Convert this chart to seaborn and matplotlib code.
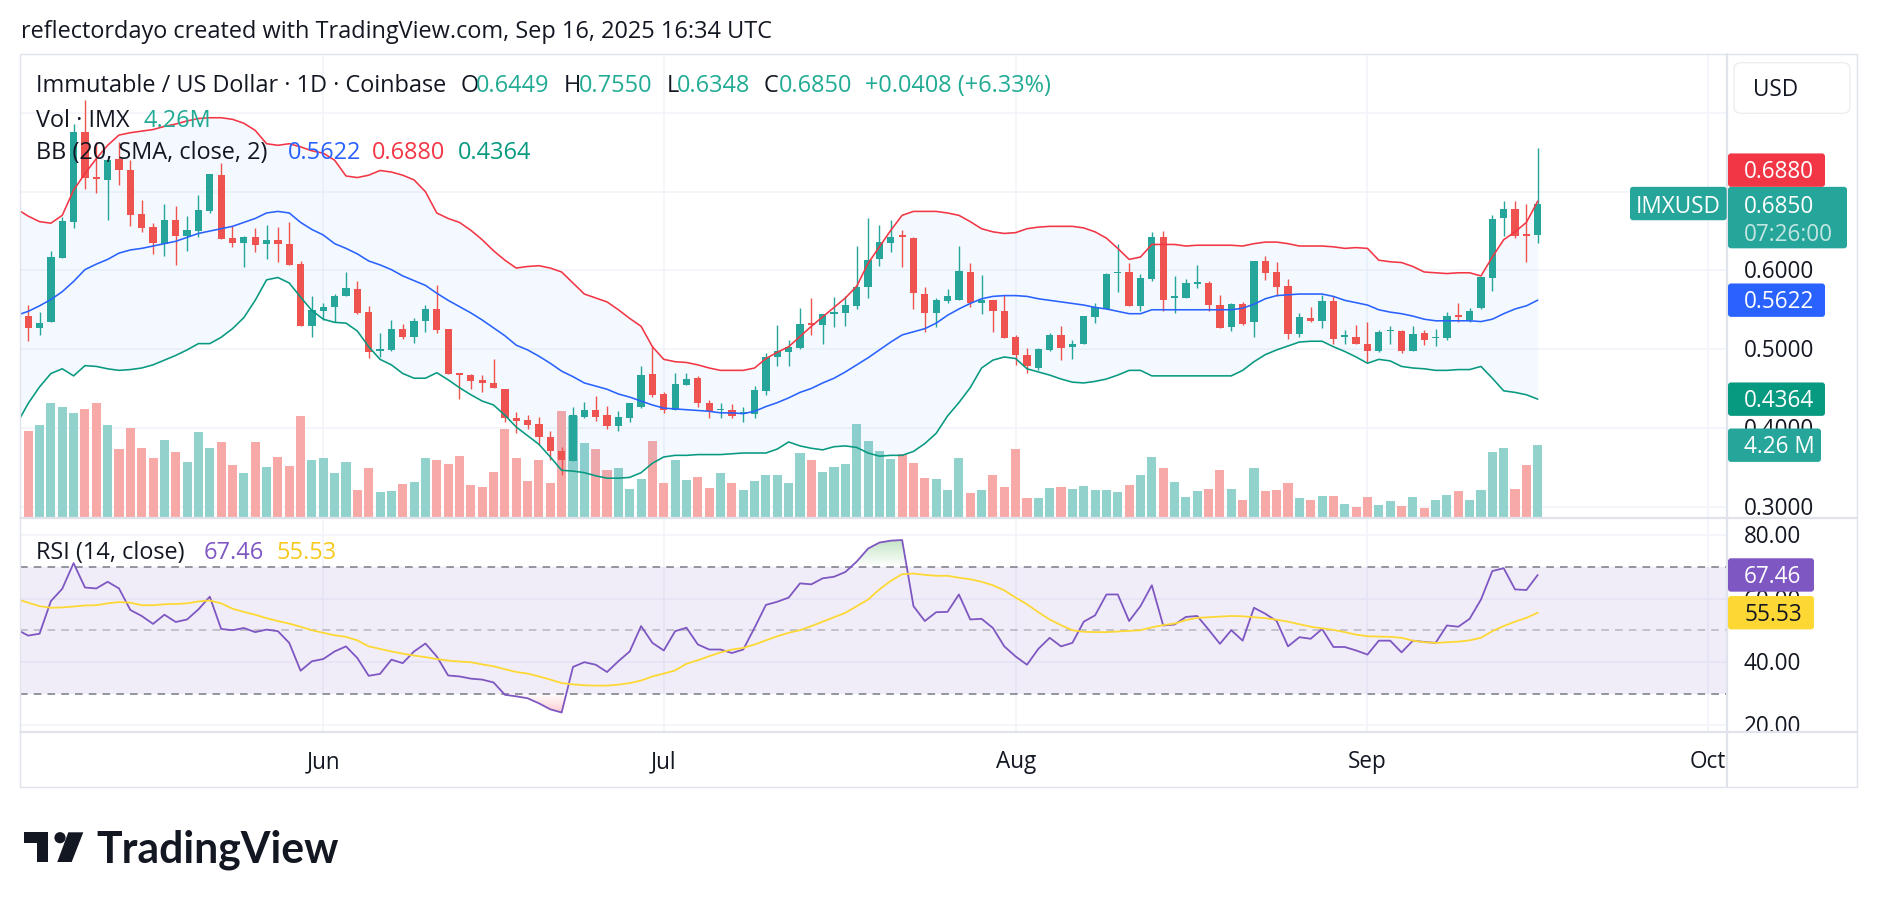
import numpy as np
import pandas as pd
import matplotlib
matplotlib.use("Agg")
import matplotlib.pyplot as plt
import matplotlib.transforms as mtrans
from matplotlib.patches import FancyBboxPatch, Polygon, Circle
from matplotlib.lines import Line2D
from matplotlib.path import Path
from matplotlib.colors import to_rgb
import seaborn as sns

# ---------------------------------------------------------------- data
start_date = "2025-05-05"          # first (mostly hidden) daily candle
open_ = [0.547,
 0.542, 0.527, 0.534, 0.616, 0.662, 0.776, 0.719, 0.715, 0.742, 0.728,
 0.672, 0.655, 0.634, 0.664, 0.644, 0.650, 0.675, 0.721, 0.641, 0.635,
 0.642, 0.633, 0.639, 0.634, 0.608, 0.530, 0.548, 0.553, 0.567, 0.577,
 0.547, 0.497, 0.499, 0.526, 0.516, 0.536, 0.551, 0.526, 0.470, 0.467,
 0.461, 0.457, 0.449, 0.413, 0.410, 0.405, 0.388, 0.370, 0.358, 0.414,
 0.423, 0.416, 0.402, 0.413, 0.427, 0.468, 0.443, 0.423, 0.455, 0.463,
 0.431, 0.422, 0.423, 0.417, 0.418, 0.447, 0.490, 0.496, 0.502, 0.533,
 0.531, 0.545, 0.546, 0.555, 0.579, 0.614, 0.635, 0.645, 0.641, 0.570,
 0.546, 0.561, 0.562, 0.598, 0.558, 0.562, 0.548, 0.515, 0.493, 0.476,
 0.499, 0.518, 0.503, 0.507, 0.541, 0.551, 0.597, 0.598, 0.555, 0.589,
 0.642, 0.565, 0.565, 0.583, 0.584, 0.556, 0.528, 0.557, 0.534, 0.612,
 0.598, 0.580, 0.519, 0.540, 0.536, 0.561, 0.516, 0.515, 0.507, 0.497,
 0.523, 0.523, 0.497, 0.521, 0.514, 0.514, 0.543, 0.537, 0.552, 0.591,
 0.666, 0.678, 0.646, 0.6449]
high = [0.552,
 0.556, 0.547, 0.625, 0.668, 0.786, 0.816, 0.763, 0.742, 0.763, 0.740,
 0.690, 0.660, 0.684, 0.682, 0.669, 0.696, 0.723, 0.736, 0.656, 0.644,
 0.654, 0.658, 0.655, 0.661, 0.612, 0.568, 0.558, 0.570, 0.598, 0.587,
 0.555, 0.521, 0.537, 0.532, 0.539, 0.556, 0.582, 0.526, 0.470, 0.469,
 0.467, 0.487, 0.449, 0.420, 0.416, 0.414, 0.396, 0.376, 0.427, 0.433,
 0.440, 0.428, 0.421, 0.432, 0.479, 0.503, 0.445, 0.470, 0.470, 0.466,
 0.435, 0.431, 0.430, 0.426, 0.453, 0.495, 0.531, 0.512, 0.552, 0.565,
 0.545, 0.566, 0.568, 0.631, 0.667, 0.658, 0.664, 0.651, 0.642, 0.579,
 0.565, 0.577, 0.631, 0.610, 0.594, 0.562, 0.569, 0.518, 0.501, 0.502,
 0.521, 0.529, 0.511, 0.542, 0.558, 0.597, 0.633, 0.610, 0.596, 0.649,
 0.650, 0.593, 0.589, 0.607, 0.587, 0.569, 0.558, 0.560, 0.612, 0.618,
 0.611, 0.589, 0.546, 0.553, 0.569, 0.567, 0.524, 0.531, 0.535, 0.524,
 0.529, 0.524, 0.530, 0.524, 0.525, 0.547, 0.559, 0.552, 0.592, 0.670,
 0.688, 0.688, 0.684, 0.7550]
low = [0.536,
 0.510, 0.518, 0.534, 0.616, 0.654, 0.703, 0.698, 0.664, 0.709, 0.656,
 0.649, 0.621, 0.618, 0.607, 0.625, 0.643, 0.673, 0.640, 0.630, 0.604,
 0.623, 0.615, 0.611, 0.607, 0.529, 0.516, 0.537, 0.534, 0.567, 0.545,
 0.489, 0.490, 0.498, 0.513, 0.508, 0.522, 0.521, 0.469, 0.437, 0.449,
 0.445, 0.450, 0.408, 0.394, 0.399, 0.378, 0.359, 0.340, 0.358, 0.413,
 0.409, 0.399, 0.396, 0.408, 0.425, 0.439, 0.419, 0.423, 0.455, 0.426,
 0.413, 0.412, 0.412, 0.407, 0.413, 0.442, 0.479, 0.479, 0.500, 0.518,
 0.506, 0.528, 0.530, 0.551, 0.565, 0.605, 0.624, 0.604, 0.551, 0.522,
 0.528, 0.558, 0.562, 0.553, 0.544, 0.522, 0.514, 0.480, 0.470, 0.474,
 0.498, 0.486, 0.487, 0.507, 0.533, 0.551, 0.573, 0.555, 0.548, 0.586,
 0.549, 0.546, 0.565, 0.578, 0.548, 0.527, 0.523, 0.531, 0.515, 0.588,
 0.567, 0.513, 0.515, 0.534, 0.527, 0.507, 0.506, 0.507, 0.484, 0.496,
 0.507, 0.495, 0.497, 0.505, 0.504, 0.512, 0.535, 0.535, 0.551, 0.574,
 0.644, 0.641, 0.611, 0.6348]
close = [0.541,
 0.527, 0.533, 0.617, 0.663, 0.776, 0.718, 0.716, 0.740, 0.727, 0.670,
 0.654, 0.635, 0.664, 0.644, 0.651, 0.677, 0.722, 0.640, 0.635, 0.643,
 0.632, 0.639, 0.634, 0.607, 0.530, 0.550, 0.554, 0.568, 0.578, 0.546,
 0.496, 0.500, 0.526, 0.515, 0.536, 0.551, 0.524, 0.469, 0.467, 0.459,
 0.457, 0.450, 0.413, 0.409, 0.403, 0.388, 0.370, 0.359, 0.416, 0.423,
 0.414, 0.402, 0.414, 0.431, 0.467, 0.442, 0.423, 0.456, 0.462, 0.431,
 0.421, 0.424, 0.415, 0.420, 0.448, 0.490, 0.497, 0.503, 0.532, 0.531,
 0.545, 0.547, 0.556, 0.579, 0.613, 0.636, 0.642, 0.642, 0.571, 0.546,
 0.563, 0.567, 0.599, 0.559, 0.562, 0.548, 0.514, 0.493, 0.478, 0.500,
 0.518, 0.502, 0.507, 0.542, 0.553, 0.596, 0.598, 0.555, 0.591, 0.642,
 0.562, 0.567, 0.584, 0.585, 0.556, 0.527, 0.557, 0.532, 0.612, 0.597,
 0.579, 0.519, 0.541, 0.536, 0.561, 0.513, 0.517, 0.507, 0.497, 0.522,
 0.524, 0.497, 0.519, 0.512, 0.516, 0.542, 0.541, 0.549, 0.592, 0.665,
 0.678, 0.644, 0.6442, 0.6850]
volume_m = [2.99,
 5.10, 5.45, 6.72, 6.50, 6.15, 6.38, 6.72, 5.45, 4.04, 5.27,
 4.10, 3.52, 4.57, 3.87, 3.28, 5.04, 4.10, 4.45, 3.11, 2.64,
 4.45, 2.99, 3.57, 3.05, 5.97, 3.40, 3.52, 2.64, 3.28, 1.64,
 2.93, 1.52, 1.58, 1.99, 2.11, 3.52, 3.40, 3.17, 3.63, 1.93,
 1.81, 2.69, 5.21, 3.52, 2.17, 3.40, 2.05, 6.27, 5.97, 4.39,
 4.04, 2.81, 2.93, 1.70, 2.29, 4.51, 2.05, 3.40, 2.23, 2.40,
 1.76, 2.64, 2.05, 1.64, 2.17, 2.52, 2.52, 2.05, 3.81, 3.40,
 2.69, 2.99, 3.17, 5.51, 4.51, 3.92, 3.46, 3.75, 3.23, 2.34,
 2.29, 1.64, 3.52, 1.46, 1.64, 2.52, 1.81, 4.04, 1.17, 1.17,
 1.76, 1.81, 1.70, 1.87, 1.64, 1.64, 1.52, 1.93, 2.52, 3.57,
 2.93, 2.11, 1.23, 1.58, 1.70, 2.81, 1.70, 1.05, 2.93, 1.58,
 1.64, 2.05, 1.17, 1.05, 1.29, 1.29, 0.82, 0.64, 1.23, 0.76,
 1.00, 0.70, 1.23, 0.59, 1.05, 1.35, 1.58, 1.05, 1.64, 3.87,
 4.10, 1.70, 3.11, 4.26]
bb_upper = [0.678,
 0.669, 0.662, 0.660, 0.670, 0.702, 0.723, 0.742, 0.759, 0.772, 0.775,
 0.777, 0.779, 0.783, 0.786, 0.790, 0.793, 0.794, 0.794, 0.792, 0.787,
 0.778, 0.761, 0.759, 0.761, 0.757, 0.752, 0.749, 0.740, 0.720, 0.718,
 0.721, 0.727, 0.725, 0.721, 0.715, 0.700, 0.673, 0.666, 0.661, 0.651,
 0.639, 0.625, 0.613, 0.603, 0.605, 0.606, 0.603, 0.598, 0.584, 0.570,
 0.565, 0.560, 0.550, 0.539, 0.529, 0.503, 0.487, 0.484, 0.483, 0.480,
 0.476, 0.473, 0.473, 0.473, 0.476, 0.488, 0.496, 0.503, 0.516, 0.529,
 0.541, 0.553, 0.565, 0.580, 0.609, 0.630, 0.651, 0.670, 0.675, 0.675,
 0.675, 0.673, 0.670, 0.662, 0.653, 0.649, 0.647, 0.648, 0.653, 0.655,
 0.656, 0.656, 0.656, 0.654, 0.649, 0.641, 0.628, 0.614, 0.617, 0.633,
 0.633, 0.633, 0.631, 0.632, 0.632, 0.632, 0.632, 0.631, 0.634, 0.636,
 0.636, 0.634, 0.631, 0.631, 0.631, 0.630, 0.628, 0.629, 0.628, 0.613,
 0.611, 0.610, 0.605, 0.598, 0.597, 0.596, 0.597, 0.597, 0.593, 0.617,
 0.639, 0.649, 0.661, 0.6880]
bb_basis = [0.543,
 0.548, 0.555, 0.563, 0.573, 0.586, 0.601, 0.608, 0.614, 0.622, 0.626,
 0.628, 0.631, 0.634, 0.637, 0.642, 0.647, 0.650, 0.653, 0.656, 0.661,
 0.666, 0.673, 0.675, 0.673, 0.661, 0.652, 0.645, 0.634, 0.628, 0.621,
 0.612, 0.607, 0.601, 0.593, 0.587, 0.581, 0.571, 0.562, 0.554, 0.546,
 0.537, 0.527, 0.517, 0.505, 0.499, 0.491, 0.482, 0.472, 0.465, 0.457,
 0.453, 0.449, 0.443, 0.439, 0.434, 0.429, 0.425, 0.424, 0.423, 0.422,
 0.421, 0.419, 0.419, 0.418, 0.421, 0.427, 0.432, 0.438, 0.445, 0.450,
 0.457, 0.463, 0.471, 0.480, 0.489, 0.499, 0.509, 0.518, 0.522, 0.526,
 0.533, 0.543, 0.551, 0.558, 0.564, 0.567, 0.568, 0.568, 0.567, 0.564,
 0.562, 0.560, 0.558, 0.556, 0.553, 0.551, 0.548, 0.545, 0.545, 0.550,
 0.550, 0.550, 0.550, 0.550, 0.550, 0.550, 0.550, 0.552, 0.557, 0.564,
 0.568, 0.569, 0.570, 0.570, 0.570, 0.567, 0.562, 0.559, 0.556, 0.550,
 0.547, 0.545, 0.542, 0.538, 0.536, 0.536, 0.536, 0.536, 0.535, 0.538,
 0.545, 0.551, 0.555, 0.5622]
bb_lower = [0.405,
 0.431, 0.452, 0.469, 0.475, 0.466, 0.479, 0.478, 0.475, 0.473, 0.474,
 0.476, 0.480, 0.486, 0.492, 0.499, 0.507, 0.507, 0.515, 0.526, 0.540,
 0.562, 0.588, 0.591, 0.584, 0.566, 0.549, 0.538, 0.534, 0.533, 0.523,
 0.503, 0.487, 0.480, 0.469, 0.463, 0.463, 0.470, 0.461, 0.451, 0.442,
 0.434, 0.429, 0.416, 0.401, 0.390, 0.379, 0.363, 0.346, 0.345, 0.343,
 0.339, 0.336, 0.336, 0.337, 0.343, 0.355, 0.363, 0.365, 0.365, 0.366,
 0.366, 0.366, 0.367, 0.368, 0.368, 0.368, 0.373, 0.382, 0.377, 0.374,
 0.372, 0.376, 0.377, 0.375, 0.368, 0.364, 0.365, 0.365, 0.370, 0.380,
 0.393, 0.415, 0.432, 0.451, 0.476, 0.486, 0.490, 0.488, 0.475, 0.471,
 0.467, 0.462, 0.458, 0.457, 0.459, 0.462, 0.467, 0.473, 0.473, 0.466,
 0.466, 0.466, 0.466, 0.466, 0.466, 0.466, 0.466, 0.473, 0.484, 0.493,
 0.499, 0.504, 0.509, 0.510, 0.510, 0.503, 0.497, 0.490, 0.482, 0.487,
 0.485, 0.478, 0.476, 0.475, 0.473, 0.473, 0.474, 0.474, 0.478, 0.463,
 0.447, 0.445, 0.442, 0.4364]
rsi = [50.2,
 48.3, 48.9, 59.2, 63.1, 71.2, 63.5, 63.2, 65.3, 63.2, 56.4,
 54.5, 52.0, 54.9, 52.6, 53.4, 56.6, 60.6, 50.4, 50.0, 50.7,
 49.4, 50.2, 49.7, 46.0, 37.2, 40.2, 40.9, 43.3, 44.9, 41.2,
 35.6, 36.2, 40.7, 39.6, 43.3, 45.8, 41.7, 35.7, 35.4, 34.7,
 34.4, 33.5, 29.6, 29.1, 28.5, 26.9, 25.0, 24.0, 38.4, 39.9,
 39.1, 36.8, 40.2, 43.3, 51.3, 46.0, 43.6, 49.7, 50.8, 45.5,
 43.9, 43.9, 42.8, 43.9, 50.8, 58.0, 59.0, 60.3, 64.8, 64.5,
 66.4, 66.9, 68.4, 71.7, 75.8, 77.7, 78.3, 78.5, 57.6, 52.9,
 55.7, 55.8, 61.3, 53.4, 53.6, 50.7, 44.9, 41.7, 39.1, 44.1,
 47.6, 44.9, 46.0, 52.7, 54.7, 61.3, 61.3, 52.9, 57.6, 64.2,
 51.5, 51.8, 54.2, 54.5, 50.2, 45.7, 50.0, 46.7, 57.1, 55.2,
 52.9, 44.9, 47.8, 47.3, 50.4, 44.7, 44.7, 43.6, 42.3, 46.7,
 46.7, 43.0, 46.7, 46.3, 46.0, 51.5, 51.1, 53.6, 59.7, 68.7,
 69.6, 62.9, 62.7, 67.46]
rsi_ma = [59.8,
 58.7, 57.6, 57.1, 57.2, 57.5, 57.8, 57.9, 58.5, 58.9, 58.7,
 57.9, 57.9, 58.2, 58.3, 58.5, 59.1, 59.4, 58.5, 56.8, 55.8,
 54.9, 53.8, 52.9, 52.1, 51.1, 50.0, 49.2, 48.4, 47.9, 46.8,
 44.9, 44.1, 43.3, 42.6, 42.0, 41.5, 40.9, 40.4, 40.1, 39.9,
 39.2, 38.6, 37.7, 36.8, 36.3, 35.4, 34.4, 33.3, 32.9, 32.6,
 32.5, 32.5, 32.8, 33.3, 34.1, 35.4, 36.3, 37.3, 39.4, 40.5,
 41.8, 43.0, 43.9, 44.4, 45.5, 46.8, 48.1, 49.2, 50.0, 51.3,
 52.7, 54.1, 55.5, 57.6, 59.7, 62.9, 65.6, 67.7, 67.9, 67.5,
 67.2, 67.2, 66.6, 66.1, 65.3, 64.2, 62.6, 60.3, 58.2, 55.7,
 53.4, 51.6, 50.0, 49.5, 49.4, 49.4, 49.6, 49.8, 50.0, 50.9,
 51.6, 52.1, 53.2, 53.9, 54.1, 54.3, 54.5, 54.4, 54.1, 53.8,
 53.3, 52.7, 51.9, 51.1, 50.6, 50.1, 49.4, 48.6, 48.1, 48.0,
 47.9, 47.6, 46.7, 46.2, 46.0, 46.2, 46.4, 46.8, 47.6, 49.7,
 51.3, 52.7, 53.9, 55.53]
month_ticks = ["2025-06-01", "2025-07-01", "2025-08-01", "2025-09-01", "2025-10-01"]
month_labels = ["Jun", "Jul", "Aug", "Sep", "Oct"]
price_grid = [0.3, 0.4, 0.5, 0.6, 0.7, 0.8]
price_labels = [0.3, 0.4, 0.5, 0.6]
rsi_grid = [20, 40, 60, 80]

# ---------------------------------------------------------------- style
sns.set_theme(style="white")
plt.rcParams['font.family'] = ['Open Sans', 'DejaVu Sans']

UP, DN = '#26a69a', '#ef5350'
VUP, VDN = '#92d2cc', '#f7a9a7'
TXT = '#131722'
GRID = '#f0f3fa'
FRAME = '#e0e3eb'
C_UP_BB, C_MID_BB, C_LO_BB = '#F23645', '#2962FF', '#089981'
C_RSI, C_MA = '#7E57C2', '#FDD835'

W, H, DPI = 1878, 908, 100
fig = plt.figure(figsize=(W / DPI, H / DPI), dpi=DPI, facecolor='white')


def rect_px(x0, y0, x1, y1):
    return [x0 / W, 1 - y1 / H, (x1 - x0) / W, (y1 - y0) / H]


PX0, PX1, SX1 = 20.4, 1726.7, 1857.0
PY0, PY1, RY1, TY1 = 54.0, 518.0, 732.0, 787.0

ax_g = fig.add_axes(rect_px(PX0, PY0, PX1, PY1))
ax_v = fig.add_axes(rect_px(PX0, PY0, PX1, PY1), sharex=ax_g)
ax_p = fig.add_axes(rect_px(PX0, PY0, PX1, PY1), sharex=ax_g, sharey=ax_g)
ax_r = fig.add_axes(rect_px(PX0, PY1, PX1, RY1), sharex=ax_g)
ax_ps = fig.add_axes(rect_px(PX1, PY0, SX1, PY1), sharey=ax_g)
ax_rs = fig.add_axes(rect_px(PX1, PY1, SX1, RY1), sharey=ax_r)
ov = fig.add_axes([0, 0, 1, 1])
for z, a in enumerate((ax_g, ax_v, ax_p, ax_r, ax_ps, ax_rs)):
    a.set_axis_off()
    a.set_zorder(z)
ov.set_axis_off()
ov.set_zorder(20)
ov.set_xlim(0, W)
ov.set_ylim(H, 0)

dates = pd.date_range(start_date, periods=len(close), freq='D')
x = np.asarray((dates - dates[0]).days, dtype=float)
mx = np.array([(pd.Timestamp(d) - dates[0]).days for d in month_ticks], dtype=float)

O, Hh, L, C = map(np.asarray, (open_, high, low, close))
V = np.asarray(volume_m)
UPB, MID, LOB = map(np.asarray, (bb_upper, bb_basis, bb_lower))
R, RMA = np.asarray(rsi), np.asarray(rsi_ma)

XL, XR = 0.313, 150.65
P_LO, P_HI = 0.2854, 0.8750
R_LO, R_HI = 17.84, 85.46

# ---------------------------------------------------------------- grid
ax_g.hlines(price_grid, XL, XR, colors=GRID, lw=1.1)
ax_g.vlines(mx, P_LO, P_HI, colors=GRID, lw=1.1)

# ---------------------------------------------------------------- volume
up = C >= O
ax_v.bar(x, V, width=0.8, color=np.where(up, VUP, VDN), linewidth=0)

# ---------------------------------------------------------------- BB + candles
ax_p.fill_between(x, LOB, UPB, color='#2196F3', alpha=0.05, lw=0, zorder=1)
ax_p.vlines(x, L, Hh, colors=np.where(up, UP, DN), lw=1.0, zorder=3)
body_lo = np.minimum(O, C)
body_h = np.maximum(np.abs(C - O), 0.0014)
ax_p.bar(x, body_h, bottom=body_lo, width=0.64, color=np.where(up, UP, DN),
         linewidth=0, zorder=4)
for vals, col in ((UPB, C_UP_BB), (MID, C_MID_BB), (LOB, C_LO_BB)):
    sns.lineplot(x=x, y=vals, ax=ax_p, color=col, linewidth=1.15, legend=False,
                 zorder=5)

# ---------------------------------------------------------------- RSI pane
ax_r.hlines(rsi_grid, XL, XR, colors=GRID, lw=1.1, zorder=0.3)
ax_r.vlines(mx, R_LO, R_HI, colors=GRID, lw=1.1, zorder=0.3)
ax_r.axhspan(30, 70, facecolor=C_RSI, alpha=0.1, lw=0, zorder=0.5)
ax_r.axhline(70, color='#787B86', lw=1.1, ls=(0, (5, 4)), zorder=1)
ax_r.axhline(30, color='#787B86', lw=1.1, ls=(0, (5, 4)), zorder=1)
ax_r.axhline(50, color='#787B86', lw=1.1, ls=(0, (5, 4)), alpha=0.5, zorder=1)


def grad_fill(ax, base, where, y_from, y_to, color, amax):
    coll = ax.fill_between(x, base, R, where=where, interpolate=True,
                           facecolor='none', edgecolor='none')
    paths = coll.get_paths()
    if not paths:
        return
    comp = Path.make_compound_path(*paths)
    arr = np.zeros((256, 1, 4))
    arr[..., :3] = to_rgb(color)
    lo, hi = min(y_from, y_to), max(y_from, y_to)
    a = np.linspace(0, amax, 256)
    arr[:, 0, 3] = a if y_to > y_from else a[::-1]
    im = ax.imshow(arr, extent=[XL, XR, lo, hi], origin='lower', aspect='auto',
                   zorder=1.5, interpolation='bilinear')
    im.set_clip_path(comp, ax.transData)


grad_fill(ax_r, 70, R > 70, 70, 79, '#4CAF50', 0.35)
grad_fill(ax_r, 30, R < 30, 30, 23, '#F23645', 0.3)
sns.lineplot(x=x, y=R, ax=ax_r, color=C_RSI, linewidth=1.3, legend=False, zorder=3)
sns.lineplot(x=x, y=RMA, ax=ax_r, color=C_MA, linewidth=1.3, legend=False, zorder=4)

# ---------------------------------------------------------------- limits
ax_g.set_xlim(XL, XR)
ax_g.set_ylim(P_LO, P_HI)
ax_v.set_ylim(0, 27.15)
ax_r.set_ylim(R_LO, R_HI)
ax_r.set_xlim(XL, XR)
ax_ps.set_xlim(0, 1)
ax_rs.set_xlim(0, 1)

# ---------------------------------------------------------------- text helpers
renderer = fig.canvas.get_renderer()
CAP = 0.714


def fit_size(s, target_w, base=12.0, **kw):
    t = fig.text(0, 0, s, fontsize=base, **kw)
    w = t.get_window_extent(renderer=renderer).width
    t.remove()
    return base * target_w / w


def cap_px(size):
    return CAP * size * DPI / 72.0


def put(xp, ybase, s, size, color=TXT, ha='left', **kw):
    kw.setdefault('zorder', 8)
    return ov.text(xp, ybase, s, fontsize=size, color=color, ha=ha,
                   va='baseline', **kw)


def py(ax, val):
    return H - ax.transData.transform((0, val))[1]


fs_axis = fit_size("0.6000", 71)
fs_leg = fit_size("Immutable / US Dollar \u00b7 1D \u00b7 Coinbase", 409)
fs_title = fit_size("reflectordayo created with TradingView.com, Sep 16, 2025 16:34 UTC", 749)

# title
put(21, 37.7, "reflectordayo created with TradingView.com, Sep 16, 2025 16:34 UTC", fs_title)

# legend lines
TEAL_T = '#22ab94'
b1 = 92.3
put(36.5, b1, "Immutable / US Dollar \u00b7 1D \u00b7 Coinbase", fs_leg)
for lx, letter, vx, val in ((461, "O", 475.8, open_[-1]), (563.5, "H", 579, high[-1]),
                            (666.7, "L", 677, low[-1]), (763.5, "C", 779, close[-1])):
    put(lx, b1, letter, fs_leg)
    put(vx, b1, f"{val:.4f}", fs_leg, color=TEAL_T)
chg = close[-1] - close[-2]
put(864.6, b1, f"+{chg:.4f} (+{chg / close[-2] * 100:.2f}%)", fs_leg, color=TEAL_T)
put(36.5, 126.7, "Vol \u00b7 IMX", fs_leg)
put(143.9, 126.7, f"{volume_m[-1]:.2f}M", fs_leg, color=TEAL_T)
put(36.5, 159.3, "BB (20, SMA, close, 2)", fs_leg)
put(287.7, 159.3, f"{bb_basis[-1]:.4f}", fs_leg, color=C_MID_BB)
put(372, 159.3, f"{bb_upper[-1]:.4f}", fs_leg, color=C_UP_BB)
put(457.5, 159.3, f"{bb_lower[-1]:.4f}", fs_leg, color=C_LO_BB)
put(36, 559.3, "RSI (14, close)", fs_leg)
put(203.8, 559.3, f"{rsi[-1]:.2f}", fs_leg, color=C_RSI)
put(277, 559.3, f"{rsi_ma[-1]:.2f}", fs_leg, color='#F7C81E')

# axis tick labels (scale panes)
off = mtrans.ScaledTranslation(0, -cap_px(fs_axis) / 2 / DPI, fig.dpi_scale_trans)
tx_frac = (1744 - PX1) / (SX1 - PX1)
tr_ps = mtrans.blended_transform_factory(ax_ps.transAxes, ax_ps.transData) + off
for v in price_labels:
    ax_ps.text(tx_frac, v, f"{v:.4f}", transform=tr_ps, fontsize=fs_axis,
               color=TXT, va='baseline', ha='left', clip_on=True)
tr_rs = mtrans.blended_transform_factory(ax_rs.transAxes, ax_rs.transData) + off
for v in rsi_grid:
    ax_rs.text(tx_frac, v, f"{v:.2f}", transform=tr_rs, fontsize=fs_axis,
               color=TXT, va='baseline', ha='left', clip_on=True)

# time axis labels
tr_t = mtrans.blended_transform_factory(ax_r.transData, ov.transData)
for m, lab in zip(mx, month_labels):
    ov.text(m, 768.3, lab, transform=tr_t, fontsize=fs_axis, color=TXT,
            ha='center', va='baseline')

# ---------------------------------------------------------------- value label boxes
HALF = 16.7
BX0 = PX1 + 1.3
TX = 1744


def label_box(yc, x1, color, text, tcolor='white', x0=BX0, tx=TX, ha='left'):
    ov.add_patch(FancyBboxPatch((x0, yc - HALF), x1 - x0, 2 * HALF,
                                boxstyle='round,pad=0,rounding_size=3',
                                fc=color, ec='none', zorder=5))
    ov.text(tx, yc + cap_px(fs_axis) / 2, text, fontsize=fs_axis, color=tcolor,
            va='baseline', ha=ha, zorder=6)


yc_close = py(ax_p, close[-1])
# close label (two lines)
ov.add_patch(FancyBboxPatch((BX0, yc_close - HALF), 1847 - BX0, 2 * HALF + 28.1,
                            boxstyle='round,pad=0,rounding_size=3',
                            fc='#26a69a', ec='none', zorder=5))
ov.text(TX, yc_close + 1.5 + cap_px(fs_axis) / 2, f"{close[-1]:.4f}", fontsize=fs_axis,
        color='white', va='baseline', ha='left', zorder=6)
ov.text(TX, yc_close + 29.5 + cap_px(fs_axis) / 2, "07:26:00", fontsize=fs_axis,
        color=(1, 1, 1, 0.72), va='baseline', ha='left', zorder=6)
# symbol tag left of the scale
ov.add_patch(FancyBboxPatch((1630, yc_close - HALF), PX1 - 1630, 2 * HALF,
                            boxstyle='round,pad=0,rounding_size=3',
                            fc='#26a69a', ec='none', zorder=5))
ov.text((1630 + PX1) / 2, yc_close + 1 + cap_px(fs_axis) / 2, "IMXUSD", fontsize=fs_axis,
        color='white', va='baseline', ha='center', zorder=6)
# upper band label pushed above the close label
label_box(yc_close - 2 * HALF, 1825, C_UP_BB, f"{bb_upper[-1]:.4f}")
label_box(py(ax_p, bb_basis[-1]), 1825, C_MID_BB, f"{bb_basis[-1]:.4f}")
label_box(py(ax_p, bb_lower[-1]), 1825, C_LO_BB, f"{bb_lower[-1]:.4f}")
label_box(py(ax_v, volume_m[-1]), 1821, '#26a69a', f"{volume_m[-1]:.2f} M")
label_box(py(ax_r, rsi[-1]), 1814, C_RSI, f"{rsi[-1]:.2f}")
label_box(py(ax_r, rsi_ma[-1]), 1814, C_MA, f"{rsi_ma[-1]:.2f}", tcolor=TXT)

# currency button
ov.add_patch(FancyBboxPatch((1734, 62.7), 116, 50.6,
                            boxstyle='round,pad=0,rounding_size=7',
                            fc='white', ec='#eceef2', lw=1.0, zorder=5))
put(1753.3, 96, "USD", fs_axis, zorder=9)

# ---------------------------------------------------------------- frame lines
for (xa, ya, xb, yb, lw) in ((PX0, PY0, SX1, PY0, 1.0), (PX0, TY1, SX1, TY1, 1.0),
                             (PX0, PY0, PX0, TY1, 1.0), (SX1, PY0, SX1, TY1, 1.0),
                             (PX0, PY1, SX1, PY1, 1.6), (PX0, RY1, SX1, RY1, 1.6),
                             (PX1, PY0, PX1, TY1, 1.6)):
    ov.add_line(Line2D([xa, xb], [ya, yb], color=FRAME, lw=lw, zorder=4))

# ---------------------------------------------------------------- TradingView logo
LOGO = '#131722'
ov.add_patch(Polygon([(24, 832.3), (48.3, 832.3), (48.3, 862), (36.7, 862),
                      (36.7, 843.3), (24, 843.3)], closed=True, fc=LOGO, ec='none'))
ov.add_patch(Circle((60.0, 837.7), 5.6, fc=LOGO, ec='none'))
ov.add_patch(Polygon([(68.3, 832.3), (83.3, 832.3), (71.7, 862), (57.3, 862)],
                     closed=True, fc=LOGO, ec='none'))
fs_logo = fit_size("TradingView", 242, fontweight='bold', family=['Lato', 'DejaVu Sans'])
ov.text(96.7, 862, "TradingView", fontsize=fs_logo, fontweight='bold',
        family=['Lato', 'DejaVu Sans'], color=LOGO, va='baseline', ha='left')

fig.savefig('out.png', dpi=DPI, facecolor='white')
